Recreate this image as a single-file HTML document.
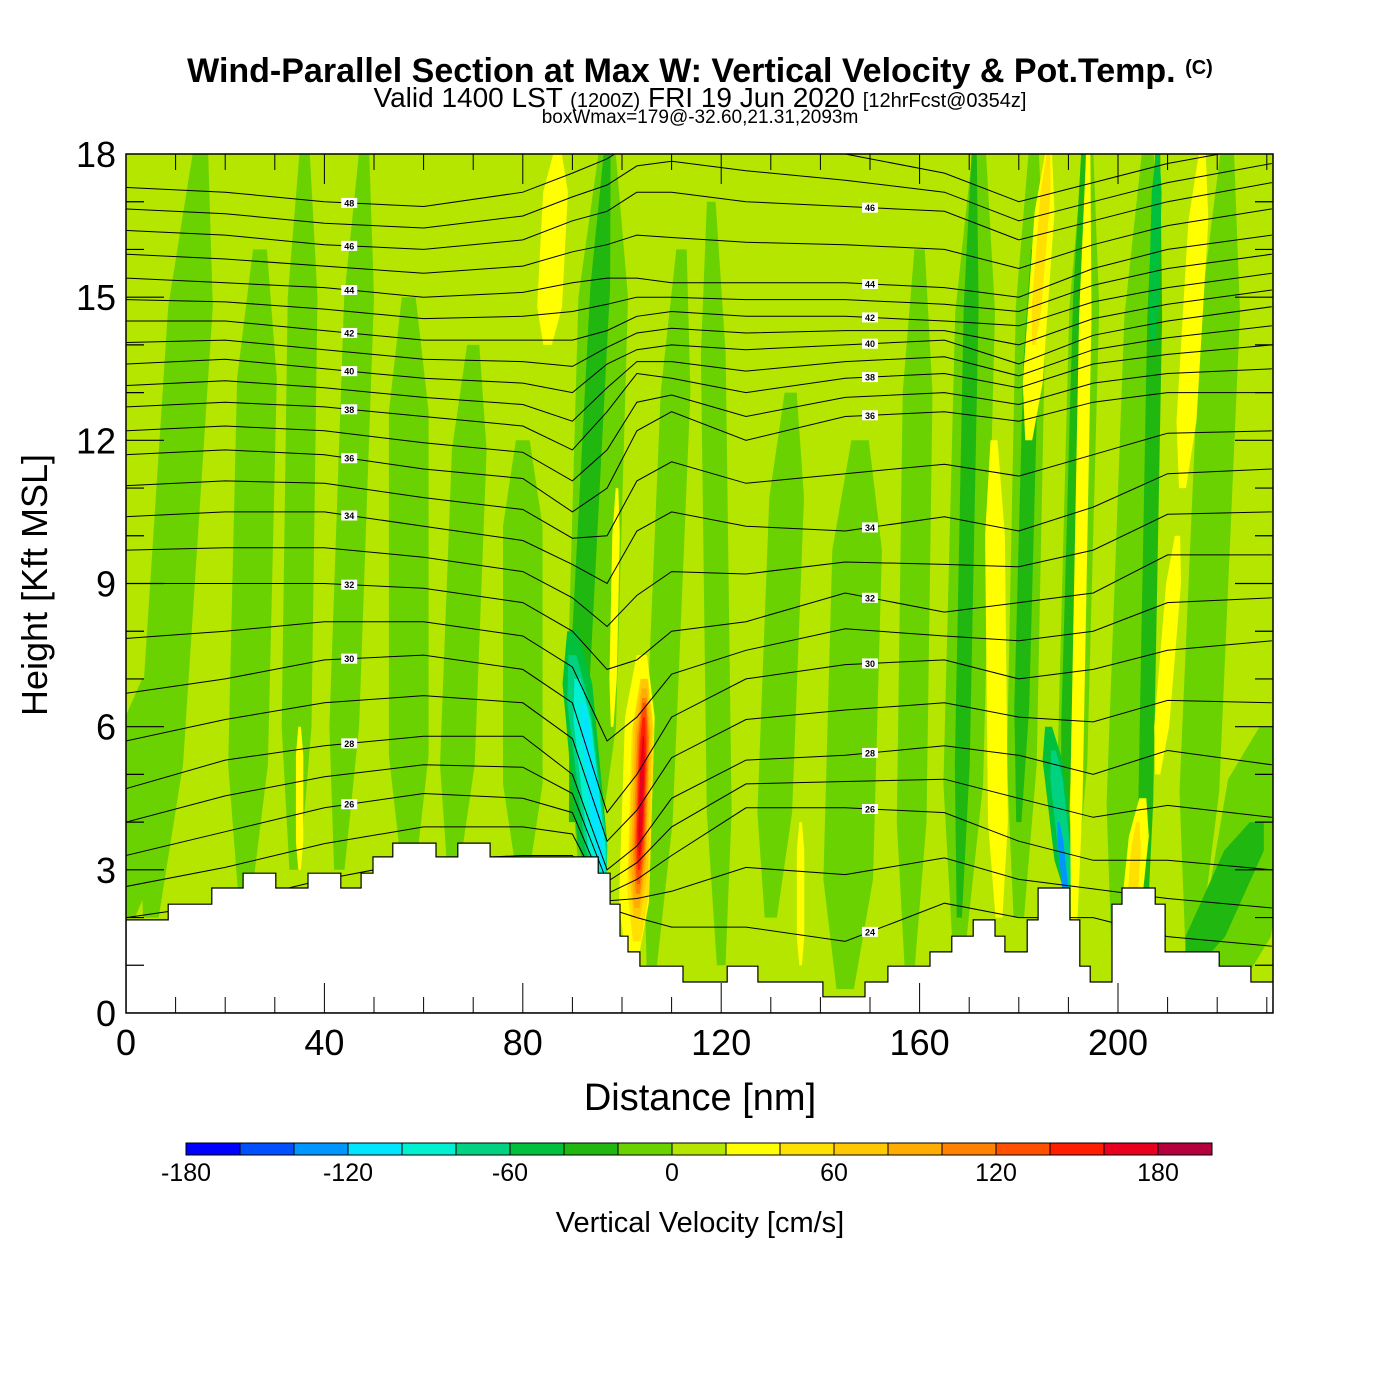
<!DOCTYPE html>
<html><head><meta charset="utf-8"><style>
html,body{margin:0;padding:0;background:#fff;}
svg{display:block;font-family:"Liberation Sans",sans-serif;}
</style></head><body>
<svg id="chart" width="1400" height="1400" viewBox="0 0 1400 1400" xmlns="http://www.w3.org/2000/svg">
<rect width="1400" height="1400" fill="#fff"/>
<text x="700" y="82" text-anchor="middle" font-size="34" font-weight="bold">Wind-Parallel Section at Max W: Vertical Velocity &amp; Pot.Temp. <tspan font-size="20" dy="-8">(C)</tspan></text>
<text x="700" y="107" text-anchor="middle" font-size="28">Valid 1400 LST <tspan font-size="20">(1200Z)</tspan> FRI 19 Jun 2020 <tspan font-size="20">[12hrFcst@0354z]</tspan></text>
<text x="700" y="123" text-anchor="middle" font-size="19">boxWmax=179@-32.60,21.31,2093m</text>
<defs><clipPath id="plotclip"><rect x="126" y="154" width="1147" height="859"/></clipPath></defs>
<g id="plot" clip-path="url(#plotclip)"></g>
<g id="axes"></g>
<text x="700" y="1110" text-anchor="middle" font-size="38">Distance [nm]</text>
<text transform="translate(47,585) rotate(-90)" text-anchor="middle" font-size="36">Height [Kft MSL]</text>
<g id="colorbar"></g>
<text x="700" y="1232" text-anchor="middle" font-size="29">Vertical Velocity [cm/s]</text>
</svg>
<script>
// ---- data ----
var binColors = ["#0000ff","#0050ff","#0096ff","#00e6ff","#00f0d2","#00d282","#00c03c","#20b810","#6ad200","#b4e600","#ffff00","#ffe000","#ffc800","#ffad00","#ff8200","#ff5000","#ff1e00","#e8001e","#b4003c"];
var cbTicks = [-180,-120,-60,0,60,120,180];
var xTicks = [0,40,80,120,160,200];
var yTicks = [0,3,6,9,12,15,18];
// vertical-velocity streaks (nm, kft, width nm, cm/s)
var stX0 = [0, 5,24,34,43,57,66,80,93,106,120,130,145,158,168,180,190,200,215,222, 90,168,180,189,205,215, 95,190,207, 96,190, 96, 96,190, 85,98,102,136,176,182,191,201,208,213,35, 183,202,103, 103,103,103.2,103.3,103.4,103.5];
var stY0 = [2, 2,2.5,3,3,3,3,3,3,1,1,2,0.5,1,1.5,2,2,1,1.3,0.5, 4,2,4,3,1,1, 2.5,2.5,14, 2.5,2.6, 2.5, 3,2, 14,6,1,1,2,12,1,0.5,5,11,3, 14,1,1.5, 2,2.2,2.5,2.7,3,3.3];
var stX1 = [5, 15,27,36,48,57,70,80,97,112,118,134,148,160,172,183,194,206,222,231, 97,171,183,193,208,228, 90,186,208, 90,187, 91, 92,188, 87,99,104,136,175,186,194,205,212,217,35, 186,204,104.5, 104.5,104.5,104.5,104.5,104.4,104.3];
var stY1 = [7, 18,16,18,18,15,14,12,18,16,17,13,12,16,18,18,18,18,18,6, 18,18,16,18,18,4, 8,6,18, 7.5,5.5, 7, 6.5,4, 18,11,7.5,4,12,18,18,4.5,10,18,6, 18,4,7, 7,6.8,6.6,6.5,6.2,5.8];
var stW  = [10, 9,8,6,6,8,7,8,10,6,5,7,10,6,8,6,6,7,8,14, 4,3,3,2.5,3,8, 6,4,2, 4.5,2.5, 3.5, 2,1.2, 5,1.5,6,1.5,4,4,2.5,4,3,4,1.5, 2,2,4.5, 3.8,3,2.4,1.8,1.3,0.8];
var stV  = [-10, -10,-10,-10,-10,-10,-10,-10,-10,-10,-10,-10,-10,-10,-10,-10,-10,-10,-10,-10, -30,-30,-30,-30,-30,-30, -50,-50,-50, -70,-70, -90, -110,-130, 30,30,30,30,30,30,30,30,30,30,30, 50,50,50, 70,90,110,130,150,170];
// potential temperature contour heights (kft) for even levels at sample distances
var thLevels = [24,26,28,30,32,34,36,38,40,42,44,46,48];
var thCols = [0,20,40,60,80,90,97,103,110,125,145,165,180,195,210,231];
var th24 = [2.0,2.3,2.8,3.2,3.3,3.3,2.2,2.0,1.8,1.8,1.5,2.3,2.0,2.0,1.6,1.4];
var th26 = [3.3,3.8,4.3,4.6,4.5,4.2,2.5,2.8,3.3,4.3,4.3,4.2,3.6,3.2,3.2,3.0];
var th28 = [4.7,5.3,5.6,5.8,5.8,5.0,3.0,3.5,4.5,5.3,5.4,5.6,5.4,5.0,5.5,5.2];
var th30 = [6.7,7.0,7.4,7.5,7.2,6.5,4.2,5.0,6.2,7.0,7.3,7.4,7.0,7.2,7.6,7.8];
var th32 = [9.0,9.0,9.0,8.9,8.6,8.0,7.2,7.4,8.0,8.2,8.8,8.4,8.6,8.8,9.6,9.6];
var th34 = [10.4,10.5,10.5,10.2,9.9,9.4,9.0,10.1,10.5,10.2,10.1,10.4,10.1,10.6,11.3,11.4];
var th36 = [11.7,11.8,11.7,11.4,11.2,10.5,11.0,12.2,12.6,12.0,12.5,12.6,12.4,12.8,13.0,13.0];
var th38 = [12.7,12.8,12.7,12.5,12.3,11.8,12.6,13.4,13.3,13.0,13.3,13.4,13.1,13.6,13.8,14.0];
var th40 = [13.6,13.7,13.5,13.3,13.2,13.0,13.6,13.9,14.0,13.9,14.0,14.1,13.6,14.2,14.5,14.8];
var th42 = [14.5,14.5,14.3,14.1,14.1,14.1,14.3,14.6,14.7,14.6,14.6,14.5,14.4,14.9,15.2,15.5];
var th44 = [15.4,15.3,15.2,15.0,15.1,15.3,15.4,15.4,15.3,15.3,15.3,15.2,15.0,15.6,16.0,16.3];
var th46 = [16.4,16.3,16.1,16.0,16.2,16.6,16.8,17.2,17.2,17.0,16.9,16.8,16.2,16.6,17.0,17.4];
var th48 = [17.3,17.2,17.0,16.9,17.2,17.6,17.9,18.3,18.5,18.3,18.0,17.6,17.0,17.4,17.8,18.2];
var thLabelX = [45,150];
// terrain step profile
var terrX = [0,8.5,17.3,23.6,30.2,36.7,43.3,47.4,49.8,53.8,62.5,66.9,73.4,95.2,97.6,99.6,101.2,103.6,112.3,121.2,127.4,140.5,149.0,153.6,162.1,166.5,170.8,175.2,177.2,181.7,183.9,190.3,192.3,194.4,198.8,200.8,207.5,209.5,220.4,226.8,231.3];
var terrH = [1.95,2.28,2.62,2.93,2.62,2.93,2.62,2.93,3.27,3.56,3.27,3.56,3.27,2.93,2.28,1.61,1.28,0.98,0.65,0.98,0.65,0.34,0.65,0.98,1.28,1.61,1.95,1.61,1.28,1.95,2.62,1.95,0.98,0.65,2.28,2.62,2.28,1.28,0.98,0.65];

// ---- scales ----
var PX0=126, PX1=1273, PY0=1013, PY1=154, XMAX=231.25, YMAX=18;
function sx(v){return PX0+(v/XMAX)*(PX1-PX0);}
function sy(v){return PY0-(v/YMAX)*(PY0-PY1);}
function colorOf(v){var b=Math.floor((v+180)/20);if(b<0)b=0;if(b>18)b=18;return binColors[b];}
var NS="http://www.w3.org/2000/svg";
function mk(tag,attrs,parent){var e=document.createElementNS(NS,tag);for(var k in attrs)e.setAttribute(k,attrs[k]);parent.appendChild(e);return e;}
var plot=document.getElementById('plot');
var axes=document.getElementById('axes');

var bg=mk('rect',{x:PX0,y:PY1,width:PX1-PX0,height:PY0-PY1,fill:colorOf(10)},plot);



for(var i=0;i<stV.length;i++){
  var ts=[0,0.2,0.8,1], ws=[0.35,1,1,0.35], L=[], R=[];
  for(var j=0;j<ts.length;j++){
    var t=ts[j], cx=stX0[i]+(stX1[i]-stX0[i])*t, cy=stY0[i]+(stY1[i]-stY0[i])*t, h=stW[i]*ws[j]/2;
    L.push(sx(cx-h).toFixed(1)+','+sy(cy).toFixed(1));
    R.unshift(sx(cx+h).toFixed(1)+','+sy(cy).toFixed(1));
  }
  var p=mk('polygon',{points:L.concat(R).join(' '),fill:colorOf(stV[i])},plot);
  
  
}

var thArr=[th24,th26,th28,th30,th32,th34,th36,th38,th40,th42,th44,th46,th48];
function drawContour(vals,lvl){
  var d='';
  for(var k=0;k<thCols.length;k++){d+=(k?'L':'M')+sx(thCols[k]).toFixed(1)+','+sy(vals[k]).toFixed(1);}
  var c=mk('path',{d:d,fill:'none',stroke:'#000','stroke-width':1},plot);
  
  
}
function interp(vals,x){
  for(var k=0;k<thCols.length-1;k++){if(x<=thCols[k+1]){var f=(x-thCols[k])/(thCols[k+1]-thCols[k]);return vals[k]+(vals[k+1]-vals[k])*f;}}
  return vals[vals.length-1];
}
for(var a=0;a<thArr.length;a++){
  drawContour(thArr[a],thLevels[a]);
  if(a<thArr.length-1){
    var mid=[];for(var k=0;k<thCols.length;k++)mid.push((thArr[a][k]+thArr[a+1][k])/2);
    drawContour(mid,thLevels[a]+1);
  }
}
var td='M'+sx(0)+','+sy(0);
for(var k=0;k<terrH.length;k++){td+='L'+sx(terrX[k]).toFixed(1)+','+sy(terrH[k]).toFixed(1)+'L'+sx(terrX[k+1]).toFixed(1)+','+sy(terrH[k]).toFixed(1);}
td+='L'+sx(XMAX)+','+sy(0)+'Z';
var ter=mk('path',{d:td,fill:'#fff',stroke:'#000','stroke-width':1.2},plot);


for(var a=0;a<thArr.length;a++){
  for(var q=0;q<thLabelX.length;q++){
    var h=interp(thArr[a],thLabelX[q]);
    var tH=0;for(var k=0;k<terrH.length;k++){if(thLabelX[q]>=terrX[k]&&thLabelX[q]<terrX[k+1])tH=terrH[k];}
    if(h<tH+0.3||h>17.8)continue;
    var lx=sx(thLabelX[q]),ly=sy(h);
    var lb=mk('rect',{x:lx-8,y:ly-5,width:16,height:10,fill:'#fff'},plot);
    
    
    var lt=mk('text',{x:lx,y:ly+3.5,'text-anchor':'middle','font-size':9,'font-weight':'bold'},plot);
    lt.textContent=thLevels[a];
    
    
  }
}

var fr=mk('rect',{x:PX0,y:PY1,width:PX1-PX0,height:PY0-PY1,fill:'none',stroke:'#000','stroke-width':1.5},axes);


for(var v=10;v<XMAX;v+=10){
  var len=(v%40===0)?30:16, x=sx(v);
  var t1=mk('line',{x1:x,y1:PY0,x2:x,y2:PY0-len,stroke:'#000','stroke-width':1},axes);
  
  
  var t2=mk('line',{x1:x,y1:PY1,x2:x,y2:PY1+len,stroke:'#000','stroke-width':1},axes);
  
  
}
for(var v=1;v<YMAX;v+=1){
  var len=(v%3===0)?38:18, y=sy(v);
  var t3=mk('line',{x1:PX0,y1:y,x2:PX0+len,y2:y,stroke:'#000','stroke-width':1.2},axes);
  
  
  var t4=mk('line',{x1:PX1,y1:y,x2:PX1-len,y2:y,stroke:'#000','stroke-width':1.2},axes);
  
  
}
for(var k=0;k<xTicks.length;k++){
  var tx=mk('text',{x:sx(xTicks[k]),y:1055,'text-anchor':'middle','font-size':36},axes);
  tx.textContent=xTicks[k];
  
  
}
for(var k=0;k<yTicks.length;k++){
  var ty=mk('text',{x:116,y:sy(yTicks[k])+13,'text-anchor':'end','font-size':36},axes);
  ty.textContent=yTicks[k];
  
  
}
var cb=document.getElementById('colorbar');
var CB0=186, CBW=54, CBY=1143, CBH=12;
for(var k=0;k<binColors.length;k++){
  var r=mk('rect',{x:CB0+k*CBW,y:CBY,width:CBW,height:CBH,fill:binColors[k],stroke:'#000','stroke-width':1},cb);
  
  
}
for(var k=0;k<cbTicks.length;k++){
  var ct=mk('text',{x:CB0+(cbTicks[k]+180)/20*CBW,y:1181,'text-anchor':'middle','font-size':25},cb);
  ct.textContent=cbTicks[k];
  
  
}
</script>
</body></html>
